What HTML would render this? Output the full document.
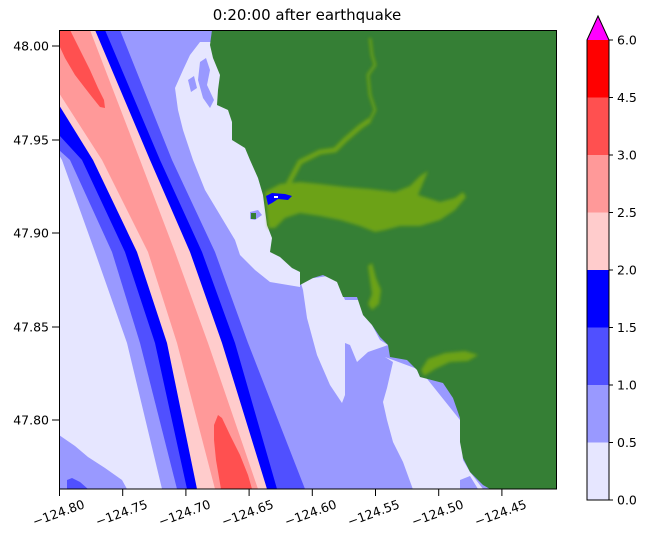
<!DOCTYPE html>
<html><head><meta charset="utf-8"><style>
html,body{margin:0;padding:0;background:#fff;width:651px;height:541px;overflow:hidden}
text{font-family:"DejaVu Sans","Liberation Sans",sans-serif;fill:#000}
</style></head><body>
<svg width="651" height="541" viewBox="0 0 651 541" xmlns="http://www.w3.org/2000/svg">
<defs><clipPath id="pc"><rect x="59" y="30" width="498" height="459"/></clipPath>
<filter id="bl" x="-20%" y="-20%" width="140%" height="140%"><feGaussianBlur stdDeviation="1.5"/></filter></defs>
<text x="307" y="20" font-size="15" text-anchor="middle">0:20:00 after earthquake</text>
<g clip-path="url(#pc)">
<rect x="50" y="20" width="520" height="480" fill="#9999ff"/>
<polygon fill="#5050ff" points="116,20 120,30 172,160 215,252 248,343 305,489 309,500 -10,500 -10,0 116,0"/>
<polygon fill="#0000ff" points="101,20 105,30 160,160 202,252 235,343 277,489 281,500 -10,500 -10,0 101,0"/>
<polygon fill="#ffcccc" points="91,20 95,30 150,160 190,252 222,343 267,489 270,500 -10,500 -10,0 91,0"/>
<polygon fill="#ff9999" points="86,20 90,30 140,160 175,252 208,343 258,489 261,500 -10,500 -10,0 86,0"/>
<polygon fill="#ffcccc" points="0,0 59,93 102,160 148,252 177,343 215,489 218,500 -10,500 -10,0"/>
<polygon fill="#0000ff" points="0,10 59,105 93,160 137,252 167,343 197,489 199,500 -10,500 -10,10"/>
<polygon fill="#5050ff" points="0,70 59,135 82,160 125,252 155,343 187,489 189,500 -10,500 -10,70"/>
<polygon fill="#9999ff" points="0,100 59,150 70,160 112,252 140,343 177,489 179,500 -10,500 -10,100"/>
<polygon fill="#e6e6ff" points="0,105 59,155 62,160 95,252 127,343 162,489 165,500 -10,500 -10,105"/>
<polygon fill="#9999ff" points="59,435 75,446 88,457 105,468 122,480 127,489 127,495 59,495"/>
<polygon fill="#5050ff" points="67,480 72,478 80,482 88,489 67,489"/>
<polygon fill="#ff5050" points="60,30 70,30 80,50 90,70 98,88 104,100 105,108 100,107 92,97 85,88 75,75 65,58 59,45"/>
<polygon fill="#ff5050" points="214,425 218,415 222,418 230,435 240,455 248,475 252,489 252,495 222,495 216,460 214,440"/>
<polygon fill="#e6e6ff" points="212,42 200,42 190,55 183,70 175,88 178,110 183,130 193,160 205,190 220,215 235,240 240,255 255,270 270,282 300,287 300,42"/>
<polygon fill="#9999ff" points="200,62 206,58 210,70 207,85 214,100 210,108 203,98 198,80"/>
<polygon fill="#9999ff" points="188,80 194,76 197,88 191,92"/>
<polygon fill="#e6e6ff" points="300,280 335,275 345,300 360,300 372,325 380,340 388,345 368,352 357,362 350,345 345,343 345,395 342,403 330,385 317,355 307,318 303,290"/>
<polygon fill="#e6e6ff" points="385,357 420,370 460,420 463,460 470,472 483,489 483,495 415,495 403,462 393,442 387,420 383,402 387,388 393,362"/>
<polygon fill="#9999ff" points="460,480 470,476 478,489 460,489"/>
<polygon fill="#357f35" points="212,30 210,45 213,58 220,75 218,90 217,105 228,110 232,122 232,140 245,148 250,160 258,178 263,195 265,210 267,225 272,238 270,252 280,257 292,268 300,272 300,285 313,278 323,275 337,282 343,297 357,297 363,315 372,325 380,337 388,345 390,357 407,360 417,370 420,377 443,383 453,398 460,418 460,442 463,458 470,472 483,485 490,489 560,495 560,25 212,25"/>
<g fill="#7fae0a" opacity="0.75" filter="url(#bl)">
<polygon points="265,192 280,184 300,182 320,184 345,187 370,189 395,192 410,186 420,176 428,171 423,183 418,195 440,202 455,198 463,192 466,197 455,210 440,220 420,226 400,226 385,230 375,232 360,226 340,220 320,216 300,213 285,218 275,228 268,228"/>
<polygon points="368,266 372,263 376,278 381,290 379,304 372,310 368,304 372,294 370,280"/>
<polygon points="421,370 428,359 445,353 465,351 478,355 468,361 450,362 435,369 424,376"/>
<polyline fill="none" stroke="#7fae0a" stroke-width="5" points="285,190 300,162 320,152 335,150 345,140 360,127 370,120"/>
<polyline fill="none" stroke="#7fae0a" stroke-width="2.5" points="370,120 375,110 370,95 368,75 375,65 372,55 370,38"/>
</g>
<polygon fill="#0000ff" points="266,196 272,193 285,194 292,196 288,200 278,199 272,203 268,205"/>
<rect x="274" y="196" width="4" height="2" fill="#ffffff"/>
<polygon fill="#9999ff" points="250,212 258,210 262,215 255,220 250,219"/>
<rect x="251" y="213" width="5" height="6" fill="#357f35"/>
</g>
<rect x="59.5" y="30.5" width="497" height="458.5" fill="none" stroke="#000" stroke-width="1"/>
<g stroke="#000" stroke-width="1">
<line x1="52" y1="46" x2="59" y2="46"/><line x1="52" y1="140" x2="59" y2="140"/><line x1="52" y1="233" x2="59" y2="233"/><line x1="52" y1="327" x2="59" y2="327"/><line x1="52" y1="420" x2="59" y2="420"/>
<line x1="59.5" y1="489" x2="59.5" y2="496"/><line x1="122.7" y1="489" x2="122.7" y2="496"/><line x1="185.9" y1="489" x2="185.9" y2="496"/><line x1="249.1" y1="489" x2="249.1" y2="496"/><line x1="312.3" y1="489" x2="312.3" y2="496"/><line x1="375.5" y1="489" x2="375.5" y2="496"/><line x1="438.7" y1="489" x2="438.7" y2="496"/><line x1="501.9" y1="489" x2="501.9" y2="496"/>
</g>
<g font-size="12.5" text-anchor="end">
<text x="49" y="50.5">48.00</text><text x="49" y="144.5">47.95</text><text x="49" y="237.5">47.90</text><text x="49" y="331.5">47.85</text><text x="49" y="424.5">47.80</text>
</g>
<g font-size="12.5" text-anchor="middle">
<text transform="translate(60,517) rotate(-20)">−124.80</text>
<text transform="translate(123,517) rotate(-20)">−124.75</text>
<text transform="translate(186,517) rotate(-20)">−124.70</text>
<text transform="translate(249,517) rotate(-20)">−124.65</text>
<text transform="translate(312,517) rotate(-20)">−124.60</text>
<text transform="translate(375,517) rotate(-20)">−124.55</text>
<text transform="translate(439,517) rotate(-20)">−124.50</text>
<text transform="translate(502,517) rotate(-20)">−124.45</text>
</g>
<rect x="587" y="40" width="22" height="57.5" fill="#ff0000"/>
<rect x="587" y="97.5" width="22" height="57.5" fill="#ff5050"/>
<rect x="587" y="155" width="22" height="57.5" fill="#ff9999"/>
<rect x="587" y="212.5" width="22" height="57.5" fill="#ffcccc"/>
<rect x="587" y="270" width="22" height="57.5" fill="#0000ff"/>
<rect x="587" y="327.5" width="22" height="57.5" fill="#5050ff"/>
<rect x="587" y="385" width="22" height="57.5" fill="#9999ff"/>
<rect x="587" y="442.5" width="22" height="57.5" fill="#e6e6ff"/>
<polygon points="587,40 598,16 609,40" fill="#ff00ff"/>
<polygon points="587,40 598,16 609,40 609,500 587,500" fill="none" stroke="#000" stroke-width="1"/>
<g stroke="#000"><line x1="609" y1="40" x2="613" y2="40"/><line x1="609" y1="97.5" x2="613" y2="97.5"/><line x1="609" y1="155" x2="613" y2="155"/><line x1="609" y1="212.5" x2="613" y2="212.5"/><line x1="609" y1="270" x2="613" y2="270"/><line x1="609" y1="327.5" x2="613" y2="327.5"/><line x1="609" y1="385" x2="613" y2="385"/><line x1="609" y1="442.5" x2="613" y2="442.5"/><line x1="609" y1="500" x2="613" y2="500"/></g>
<g font-size="12.5">
<text x="617" y="44.5">6.0</text><text x="617" y="102">4.5</text><text x="617" y="159.5">3.0</text><text x="617" y="217">2.5</text><text x="617" y="274.5">2.0</text><text x="617" y="332">1.5</text><text x="617" y="389.5">1.0</text><text x="617" y="447">0.5</text><text x="617" y="504.5">0.0</text>
</g>
</svg>
</body></html>
